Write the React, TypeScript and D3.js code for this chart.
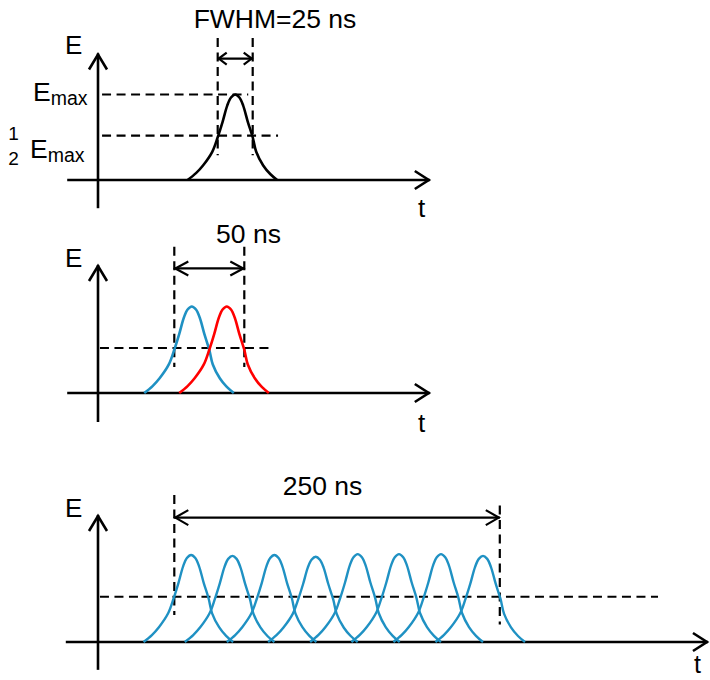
import React from "react";
import * as d3 from "d3";

// Pulse profile (time offset in ns from peak, relative field strength)
const PROFILE_T = [-34, -28, -23, -16.4, -12.5, -9, -5.7, -3, 0, 3, 5.7, 9, 12.5, 15, 20, 25, 30];
const PROFILE_E = [0, 0.08, 0.17, 0.33, 0.5, 0.68, 0.87, 0.965, 1, 0.965, 0.87, 0.68, 0.5, 0.33, 0.17, 0.07, 0];

// Panel 1: single pulse
const TOP_PEAKS = [98];
const TOP_AMPS = [1];
const TOP_MARKERS = [85.5, 110.5];
const TOP_LABEL = "FWHM=25 ns";

// Panel 2: two pulses
const MID_PEAKS = [67, 92];
const MID_AMPS = [1, 1];
const MID_COLORS = ["#1f91c3", "#ff0000"];
const MID_MARKERS = [54.5, 104.5];
const MID_LABEL = "50 ns";

// Panel 3: pulse train
const BOT_PEAKS = [66.5, 96, 126, 155.5, 185.5, 215, 245, 275];
const BOT_AMPS = [1, 0.99, 1, 0.98, 1.01, 1.01, 1.01, 0.99];
const BOT_MARKERS = [54.5, 287];
const BOT_LABEL = "250 ns";

const HALF_LEVEL = 0.52;
const FONT = "'Liberation Sans', Arial, sans-serif";
const BLUE = "#1f91c3";

const x = d3.scaleLinear().domain([0, 100]).range([98, 238]);

function pulsePath(y: d3.ScaleLinear<number, number>, peak: number, amp: number) {
  const pts = PROFILE_T.map((t, i) => [peak + t, PROFILE_E[i] * amp] as [number, number]);
  return d3
    .line<[number, number]>()
    .x((d) => x(d[0]))
    .y((d) => y(d[1]))
    .curve(d3.curveCatmullRom.alpha(0.5))(pts) as string;
}

function Axes({ y, xEnd, yTop, yBot, xStart }: any) {
  const ax = x(0);
  const by = y(0);
  const tipY = y(yTop);
  const tipX = x(xEnd);
  return (
    <g stroke="#000" strokeWidth={2.6} fill="none" strokeLinecap="butt">
      <line x1={ax} x2={ax} y1={y(yBot)} y2={tipY} />
      <path d={`M${ax - 9},${tipY + 16} L${ax},${tipY + 1} L${ax + 9},${tipY + 16}`} strokeLinejoin="miter" />
      <line x1={x(xStart)} x2={tipX} y1={by} y2={by} />
      <path d={`M${tipX - 15},${by - 9} L${tipX - 1},${by} L${tipX - 15},${by + 9}`} strokeLinejoin="miter" />
    </g>
  );
}

function DoubleArrow({ x1, x2, yy, size, half }: any) {
  return (
    <g stroke="#000" strokeWidth={2.2} fill="none">
      <line x1={x1} x2={x2} y1={yy} y2={yy} />
      <path d={`M${x1 + size},${yy - half} L${x1 + 1},${yy} L${x1 + size},${yy + half}`} />
      <path d={`M${x2 - size},${yy - half} L${x2 - 1},${yy} L${x2 - size},${yy + half}`} />
    </g>
  );
}

function Dashed({ x1, x2, y1, y2 }: any) {
  return <line x1={x1} x2={x2} y1={y1} y2={y2} stroke="#000" strokeWidth={2.2} strokeDasharray="9,5.5" />;
}

export default function App() {
  const yTop = d3.scaleLinear().domain([0, 1]).range([180, 94.5]);
  const yMid = d3.scaleLinear().domain([0, 1]).range([393, 306.5]);
  const yBot = d3.scaleLinear().domain([0, 1]).range([642, 555]);

  return (
    <svg width={710} height={680} style={{ position: "absolute", left: 0, top: 0, background: "#fff" }} fontFamily={FONT}>
      {/* ---------- Panel 1 ---------- */}
      <Axes y={yTop} xStart={-22} xEnd={237} yTop={1.48} yBot={-0.33} />
      <text x={65} y={54} fontSize={26}>E</text>
      <text x={418} y={217} fontSize={26}>t</text>
      <Dashed x1={x(2.9)} x2={x(107.3)} y1={yTop(1)} y2={yTop(1)} />
      <Dashed x1={x(2.9)} x2={x(128.6)} y1={yTop(HALF_LEVEL)} y2={yTop(HALF_LEVEL)} />
      {TOP_MARKERS.map((m, i) => (
        <Dashed key={i} x1={x(m)} x2={x(m)} y1={yTop(1.66)} y2={yTop(0.29)} />
      ))}
      <DoubleArrow x1={x(TOP_MARKERS[0])} x2={x(TOP_MARKERS[1])} yy={yTop(1.42)} size={9} half={6} />
      <text x={275} y={28} fontSize={26.5} textAnchor="middle">{TOP_LABEL}</text>
      {TOP_PEAKS.map((p, i) => (
        <path key={i} d={pulsePath(yTop, p, TOP_AMPS[i])} fill="none" stroke="#000" strokeWidth={2.6} />
      ))}
      <text x={33} y={101} fontSize={26.5}>
        E<tspan fontSize={19.5} dy={3.5}>max</tspan>
      </text>
      <text x={13.5} y={139.5} fontSize={19} textAnchor="middle">1</text>
      <text x={13.5} y={164.5} fontSize={19} textAnchor="middle">2</text>
      <text x={30} y={158} fontSize={26.5}>
        E<tspan fontSize={19.5} dy={3.5}>max</tspan>
      </text>

      {/* ---------- Panel 2 ---------- */}
      <Axes y={yMid} xStart={-22} xEnd={237} yTop={1.48} yBot={-0.335} />
      <text x={65} y={267} fontSize={26}>E</text>
      <text x={418} y={432} fontSize={26}>t</text>
      <Dashed x1={x(1.4)} x2={x(122)} y1={yMid(HALF_LEVEL)} y2={yMid(HALF_LEVEL)} />
      {MID_MARKERS.map((m, i) => (
        <Dashed key={i} x1={x(m)} x2={x(m)} y1={yMid(1.69)} y2={yMid(0.3)} />
      ))}
      <DoubleArrow x1={x(MID_MARKERS[0])} x2={x(MID_MARKERS[1])} yy={yMid(1.44)} size={14} half={7} />
      <text x={248.5} y={242.5} fontSize={26.5} textAnchor="middle">{MID_LABEL}</text>
      {MID_PEAKS.map((p, i) => (
        <path key={i} d={pulsePath(yMid, p, MID_AMPS[i])} fill="none" stroke={MID_COLORS[i]} strokeWidth={2.6} />
      ))}

      {/* ---------- Panel 3 ---------- */}
      <Axes y={yBot} xStart={-23} xEnd={435.7} yTop={1.46} yBot={-0.32} />
      <text x={65} y={517} fontSize={26}>E</text>
      <text x={694} y={673} fontSize={25}>t</text>
      <Dashed x1={x(1.4)} x2={x(400)} y1={yBot(HALF_LEVEL)} y2={yBot(HALF_LEVEL)} />
      <Dashed x1={x(BOT_MARKERS[0])} x2={x(BOT_MARKERS[0])} y1={yBot(1.69)} y2={yBot(0.31)} />
      <Dashed x1={x(BOT_MARKERS[1])} x2={x(BOT_MARKERS[1])} y1={yBot(1.57)} y2={yBot(0.2)} />
      <DoubleArrow x1={x(BOT_MARKERS[0])} x2={x(BOT_MARKERS[1])} yy={yBot(1.43)} size={14} half={7.5} />
      <text x={322.5} y={495} fontSize={26.5} textAnchor="middle">{BOT_LABEL}</text>
      {BOT_PEAKS.map((p, i) => (
        <path key={i} d={pulsePath(yBot, p, BOT_AMPS[i])} fill="none" stroke={BLUE} strokeWidth={2.4} />
      ))}
    </svg>
  );
}
